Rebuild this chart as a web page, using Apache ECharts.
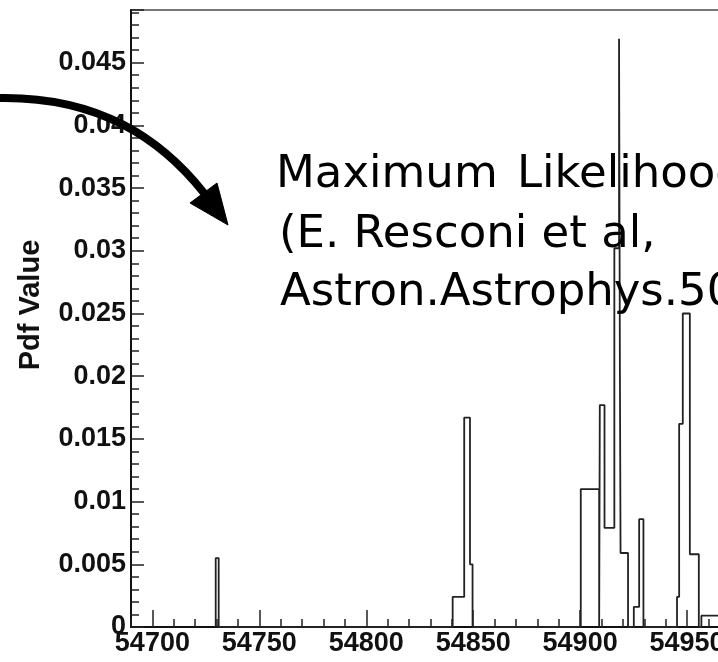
<!DOCTYPE html>
<html>
<head>
<meta charset="utf-8">
<script src="https://cdn.jsdelivr.net/npm/echarts@6/dist/echarts.min.js"></script>
<style>
  html, body { margin: 0; padding: 0; background: #ffffff; overflow: hidden; width: 718px; height: 662px; }
  /* the plot frame runs on past the right edge of the page */
  #chart { width: 800px; height: 662px; }
</style>
</head>
<body>
<div id="chart"></div>
<script>
// Maximum-likelihood blocks: start / end of each block (MJD) and its pdf value
const blockStart = [54729.6, 54840.4, 54845.8, 54848.5, 54900.3, 54909.2, 54911.4, 54916.0, 54918.2, 54918.6, 54918.9, 54925.1, 54927.6, 54945.3, 54946.3, 54948.0, 54951.3, 54956.7];
const blockEnd   = [54731.0, 54845.8, 54848.5, 54849.7, 54908.9, 54911.4, 54916.0, 54918.2, 54918.6, 54918.9, 54922.4, 54927.6, 54929.6, 54946.3, 54948.0, 54951.3, 54955.5, 54966.0];
const pdfValue   = [0.0055, 0.0024, 0.0167, 0.0050, 0.0110, 0.0177, 0.0079, 0.0302, 0.0469, 0.0204, 0.0059, 0.0016, 0.0086, 0.0024, 0.0162, 0.0250, 0.0058, 0.0009];

// Axis ticks
const xMajorTicks = [54700, 54750, 54800, 54850, 54900, 54950, 55000];
const xMin = 54690, xMax = 55000;
const yMin = 0, yMax = 0.0492, yStep = 0.005;

// Annotation text
const noteWords = ['Maximum', 'Likelihood'];
const noteLines = ['(E. Resconi et al,', 'Astron.Astrophys.50'];
const yTitle = 'Pdf Value';

// Build the stepped histogram outline from the blocks
function outline() {
  const pts = [];
  for (let i = 0; i < blockStart.length; i++) {
    const joined = i > 0 && Math.abs(blockStart[i] - blockEnd[i - 1]) < 1e-9;
    if (!joined) {
      if (i > 0) pts.push([blockEnd[i - 1], 0]);
      pts.push([blockStart[i], 0]);
    }
    pts.push([blockStart[i], pdfValue[i]]);
    pts.push([blockEnd[i], pdfValue[i]]);
  }
  pts.push([blockEnd[blockEnd.length - 1], 0]);
  return pts;
}

const labelFont = { fontFamily: 'Liberation Sans', fontWeight: 'bold', fontSize: 27, color: '#111' };
const noteFont = { fontFamily: 'DejaVu Sans', fontSize: 45, fill: '#000', align: 'left', verticalAlign: 'middle' };

const chart = echarts.init(document.getElementById('chart'), null, { renderer: 'canvas' });
chart.setOption({
  animation: false,
  backgroundColor: '#ffffff',
  grid: {
    left: 131, top: 10, bottom: 35, right: 6,
    outerBoundsMode: 'none',
    show: true, borderColor: '#777', borderWidth: 2, backgroundColor: 'transparent'
  },
  xAxis: [
    {
      type: 'value', min: xMin, max: xMax, interval: 10, position: 'bottom',
      axisLine: { show: true, onZero: false, lineStyle: { color: '#111', width: 2 } },
      axisTick: { show: true, inside: true, length: 8, lineStyle: { color: '#222', width: 1.5 } },
      axisLabel: { show: false },
      splitLine: { show: false }
    },
    {
      type: 'value', min: xMin, max: xMax, position: 'bottom', offset: 0,
      axisLine: { show: false },
      axisTick: { show: true, inside: true, length: 17, customValues: xMajorTicks, lineStyle: { color: '#222', width: 1.5 } },
      axisLabel: Object.assign({ show: true, margin: 3, customValues: xMajorTicks, formatter: v => String(v) }, labelFont),
      splitLine: { show: false }
    }
  ],
  yAxis: {
    type: 'value', min: yMin, max: yMax, interval: yStep,
    axisLine: { show: true, onZero: false, lineStyle: { color: '#111', width: 2 } },
    axisTick: { show: true, inside: true, length: 13, lineStyle: { color: '#222', width: 1.5 } },
    minorTick: { show: true, splitNumber: 5, length: 8, lineStyle: { color: '#222', width: 1.5 } },
    axisLabel: Object.assign({ show: true, margin: 5, showMaxLabel: false }, labelFont),
    splitLine: { show: false }
  },
  series: [{
    type: 'line',
    xAxisIndex: 0,
    data: outline(),
    showSymbol: false,
    symbol: 'none',
    clip: true,
    lineStyle: { color: '#222', width: 1.8 },
    z: 3
  }],
  graphic: [
    {
      type: 'text', x: 31, y: 305, rotation: Math.PI / 2, z: 10,
      style: { text: yTitle, fontFamily: 'Liberation Sans', fontWeight: 'bold', fontSize: 29, fill: '#111', align: 'center', verticalAlign: 'middle' }
    },
    { type: 'text', x: 276, y: 175, z: 10, style: Object.assign({ text: noteWords[0] }, noteFont) },
    { type: 'text', x: 517, y: 175, z: 10, style: Object.assign({ text: noteWords[1] }, noteFont) },
    { type: 'text', x: 279, y: 235, z: 10, style: Object.assign({ text: noteLines[0] }, noteFont) },
    { type: 'text', x: 280, y: 293, z: 10, style: Object.assign({ text: noteLines[1] }, noteFont) },
    // curved pointer arrow
    {
      type: 'bezierCurve', z: 20,
      shape: { x1: -2, y1: 98, cpx1: 100, cpy1: 96, cpx2: 162, cpy2: 140, x2: 204, y2: 193 },
      style: { stroke: '#000', lineWidth: 8, fill: null }
    },
    {
      type: 'polygon', z: 20,
      shape: { points: [[228, 225], [190, 203], [217, 183]] },
      style: { fill: '#000', stroke: '#000', lineWidth: 1 }
    }
  ]
});
</script>
</body>
</html>
